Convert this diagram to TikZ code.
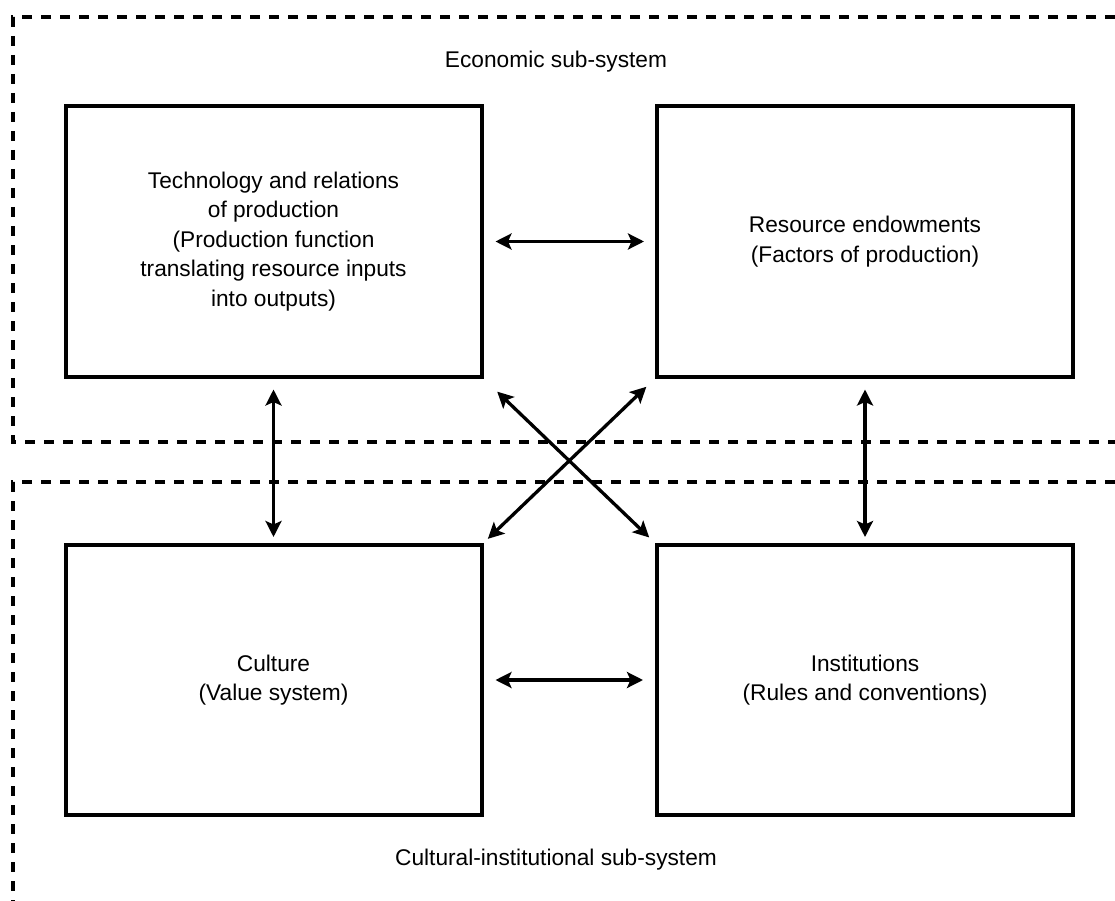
\documentclass[tikz,border=0pt]{standalone}
\usepackage{fontspec}
\setmainfont{Liberation Sans}
\usetikzlibrary{arrows.meta}
\tikzset{
  blk/.style={draw, line width=4pt, minimum width=416pt, minimum height=270pt, inner sep=0pt, align=center, font=\fontsize{22.7}{29.5}\selectfont},
  lbl/.style={font=\fontsize{22.7}{29.5}\selectfont, inner sep=0pt},
  sub/.style={line width=3.5pt, dash pattern=on 10pt off 9pt},
  dbl/.style={line width=3.3pt, {Stealth[length=16pt,width=16pt,inset=3.5pt]}-{Stealth[length=16pt,width=16pt,inset=3.5pt]}}
}
\begin{document}
\begin{tikzpicture}[x=1pt,y=-1pt]
\useasboundingbox (0,0) rectangle (1115,901);
% dashed sub-system borders
\coordinate (u1) at (1115,17);
\coordinate (u2) at (13,17);
\coordinate (u3) at (13,442);
\coordinate (u4) at (1115,442);
\coordinate (l1) at (1115,482);
\coordinate (l2) at (13,482);
\coordinate (l3) at (13,901);
\draw[sub] (u1) -- (u2) -- (u3) -- (u4);
\draw[sub] (l1) -- (l2) -- (l3);
% labels
\node[lbl] (econ) at (556,62) {Economic sub-system};
\node[lbl] (cult) at (556,860) {Cultural-institutional sub-system};
% boxes
\node[blk] (tech) at (273.5,241.5) {Technology and relations\\of production\\(Production function\\translating resource inputs\\into outputs)};
\node[blk] (res) at (865,241.5) {Resource endowments\\(Factors of production)};
\node[blk] (culture) at (273.5,680) {Culture\\(Value system)};
\node[blk] (inst) at (865,680) {Institutions\\(Rules and conventions)};
% arrows
\draw[dbl, shorten <=12pt, shorten >=11pt] (tech.east) -- (res.west);
\draw[dbl, shorten <=12pt, shorten >=12pt] (culture.east) -- (inst.west);
\draw[dbl, shorten <=11pt, shorten >=6pt] (tech.south) -- (culture.north);
\draw[dbl, shorten <=11pt, shorten >=6pt] (res.south) -- (inst.north);
\draw[dbl, shorten <=19pt, shorten >=8pt] (tech.south east) -- (inst.north west);
\draw[dbl, shorten <=12pt, shorten >=6pt] (res.south west) -- (culture.north east);
\end{tikzpicture}
\end{document}
